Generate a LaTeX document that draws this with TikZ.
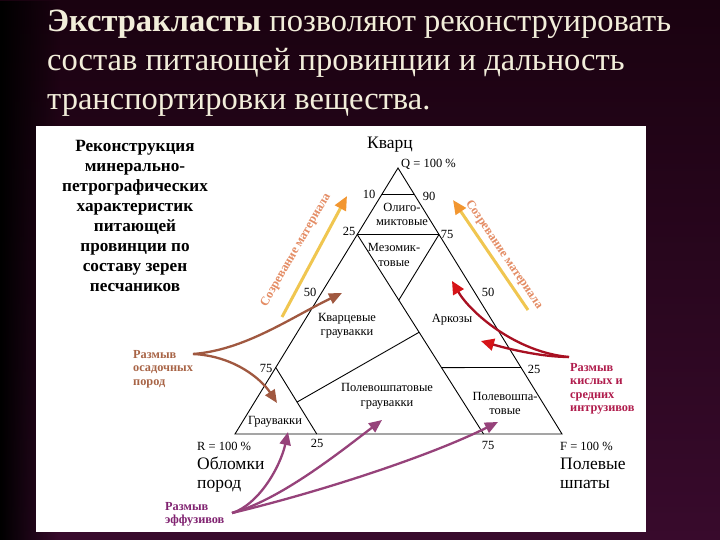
\documentclass[tikz,border=0pt]{standalone}
\usepackage{fontspec}
\setmainfont{Liberation Serif}
\usetikzlibrary{arrows.meta,calc,fadings}
\definecolor{bgm}{RGB}{56,10,44}
\definecolor{bgt}{RGB}{26,2,16}
\definecolor{titlec}{RGB}{242,238,218}
\definecolor{brownc}{RGB}{160,88,64}
\definecolor{brownt}{RGB}{168,100,70}
\definecolor{redc}{RGB}{168,16,34}
\definecolor{redh}{RGB}{214,20,24}
\definecolor{redt}{RGB}{176,28,76}
\definecolor{purpc}{RGB}{150,66,122}
\definecolor{purpt}{RGB}{128,34,112}
\definecolor{goldc}{RGB}{240,198,80}
\definecolor{orangeh}{RGB}{242,150,48}
\definecolor{oranget}{RGB}{228,140,100}
\begin{document}
\begin{tikzpicture}[x=1pt,y=-1pt,
  lbl/.style={font=\fontsize{12.5}{14.5}\selectfont, inner sep=0pt, align=center},
  bigl/.style={font=\fontsize{17.5}{19}\selectfont, inner sep=0pt, align=left, anchor=west},
  srclbl/.style={font=\bfseries\fontsize{12.3}{13.5}\selectfont, inner sep=0pt, align=left, anchor=north west},
  titl/.style={font=\fontsize{32.5}{36}\selectfont, text=titlec, inner sep=0pt, anchor=base west},
  rotl/.style={font=\bfseries\fontsize{12.5}{14}\selectfont, text=oranget, inner sep=0pt},
  edgeline/.style={line width=0.9pt, black},
  brownarr/.style={draw=brownc, line width=2.3pt, -{Triangle[length=13pt,width=11pt,color=brownc]}},
  redarr/.style={draw=redc, line width=2.3pt, -{Triangle[length=13pt,width=12pt,color=redh]}},
  purparr/.style={draw=purpc, line width=2.3pt, -{Triangle[length=13pt,width=11pt,color=purpc]}},
  goldarr/.style={draw=goldc, line width=3pt, -{Triangle[length=14pt,width=12pt,color=orangeh]}}
]
\useasboundingbox (0,0) rectangle (720,540);
% background
\shade[top color=bgt, bottom color=bgm] (0,0) rectangle (720,540);
\fill[black, path fading=east] (0,0) rectangle (60,540);
\fill[white] (36,126) rectangle (646,532);

% title
\node[titl] (t1) at (47,32) {\textbf{Экстракласты} позволяют реконструировать};
\node[titl] (t2) at (47,71) {состав питающей провинции и дальность};
\node[titl] (t3) at (47,110) {транспортировки вещества.};

% left text
\node[font=\bfseries\fontsize{17.2}{20}\selectfont, align=center, anchor=north, inner sep=0pt] (recon) at (135,140)
  {Реконструкция\\минерально-\\петрографических\\характеристик\\питающей\\провинции по\\составу зерен\\песчаников};

% triangle geometry
\coordinate (Q) at (398,168);
\coordinate (R) at (235,434);
\coordinate (F) at (562,434);
\coordinate (L10) at ($(Q)!0.1!(R)$);
\coordinate (R10) at ($(Q)!0.1!(F)$);
\coordinate (L25) at ($(Q)!0.25!(R)$);
\coordinate (R25) at ($(Q)!0.25!(F)$);
\coordinate (L75) at ($(Q)!0.75!(R)$);
\coordinate (Rt75) at ($(Q)!0.75!(F)$);
\coordinate (B25) at ($(R)!0.25!(F)$);
\coordinate (B75) at ($(R)!0.76!(F)$);
\coordinate (R25d) at ($(R25)+(R)-(Q)$);
\coordinate (M) at (intersection of L25--B75 and R25--R25d);
\coordinate (G1) at ($(L75)!0.52!(B25)$);
\coordinate (G2) at ($(L25)!0.49!(B75)$);
\coordinate (H1) at ($(L25)!0.667!(B75)$);

\draw[edgeline, line join=miter] (Q) -- (R) -- (F) -- cycle;
\draw[edgeline] (L10) -- (R10);
\draw[edgeline, line width=1.2pt] (L25) -- (R25);
\draw[edgeline] (L25) -- (B75);
\draw[edgeline] (R25) -- (M);
\draw[edgeline] (L75) -- (B25);
\draw[edgeline] (G1) -- (G2);
\draw[edgeline] (H1) -- (Rt75);

% labels
\node[lbl, font=\fontsize{17.5}{19}\selectfont] (kvarc) at (390,145) {Кварц};
\node[lbl, anchor=west] (q100) at (401,164) {Q = 100 \%};
\node[lbl] (n10) at (369,194) {10};
\node[lbl] (n90) at (429,196) {90};
\node[lbl] (oligo) at (402,214.5) {Олиго-\\миктовые};
\node[lbl] (n25l) at (349,231) {25};
\node[lbl] (n75r) at (447,234) {75};
\node[lbl] (mezo) at (394,255) {Мезомик-\\товые};
\node[lbl] (n50l) at (310,292) {50};
\node[lbl] (n50r) at (488,292) {50};
\node[lbl] (kvgr) at (347,326) {Кварцевые\\граувакки};
\node[lbl] (ark) at (452,320) {Аркозы};
\node[lbl] (n75l) at (266,368) {75};
\node[lbl] (n25r) at (534,369) {25};
\node[lbl] (plgr) at (387,396.5) {Полевошпатовые\\граувакки};
\node[lbl] (pl) at (505,403.5) {Полевошпа-\\товые};
\node[lbl] (grv) at (275,422) {Граувакки};
\node[lbl, anchor=west] (r100) at (197,446) {R = 100 \%};
\node[lbl] (n25b) at (317,443) {25};
\node[lbl] (n75b) at (488,445) {75};
\node[lbl, anchor=west] (f100) at (560,446) {F = 100 \%};
\node[bigl] (oblomki) at (197,474.5) {Обломки\\пород};
\node[bigl] (polev) at (560,473.5) {Полевые\\шпаты};

% source labels
\node[srclbl, text=brownt] (srcS) at (133,350) {Размыв\\осадочных\\пород};
\node[srclbl, text=redt] (srcI) at (570,363) {Размыв\\кислых и\\средних\\интрузивов};
\node[srclbl, text=purpt] (srcE) at (165,502) {Размыв\\эффузивов};

% maturation arrows
\coordinate (ga1) at (282,317);
\coordinate (ga2) at (347,196);
\coordinate (gb1) at (528,310);
\coordinate (gb2) at (453,200);
\draw[goldarr] (ga1) -- (ga2);
\draw[goldarr] (gb1) -- (gb2);
\node[rotl, rotate=60] (mat1) at (296,250) {Созревание материала};
\node[rotl, rotate=-56] (mat2) at (504,255) {Созревание материала};

% source arrows
\coordinate (bs) at (193,354);
\coordinate (bh1) at (342,293);
\coordinate (bh2) at (277,403);
\coordinate (rs) at (569,357);
\coordinate (rh1) at (452,281);
\coordinate (rh2) at (481,341);
\coordinate (ps) at (232,513);
\coordinate (ph1) at (288,432);
\coordinate (ph2) at (382,420);
\coordinate (ph3) at (498,422);
\draw[brownarr] (bs) .. controls (245,350) and (290,318) .. (bh1);
\draw[brownarr] (bs) .. controls (235,356) and (262,380) .. (bh2);
\draw[redarr] (rs) .. controls (515,352) and (470,312) .. (rh1);
\draw[redarr] (rs) .. controls (540,357) and (505,348) .. (rh2);
\draw[purparr] (ps) .. controls (258,505) and (280,468) .. (ph1);
\draw[purparr] (ps) .. controls (280,500) and (340,452) .. (ph2);
\draw[purparr] (ps) .. controls (320,492) and (430,456) .. (ph3);
\end{tikzpicture}
\end{document}
